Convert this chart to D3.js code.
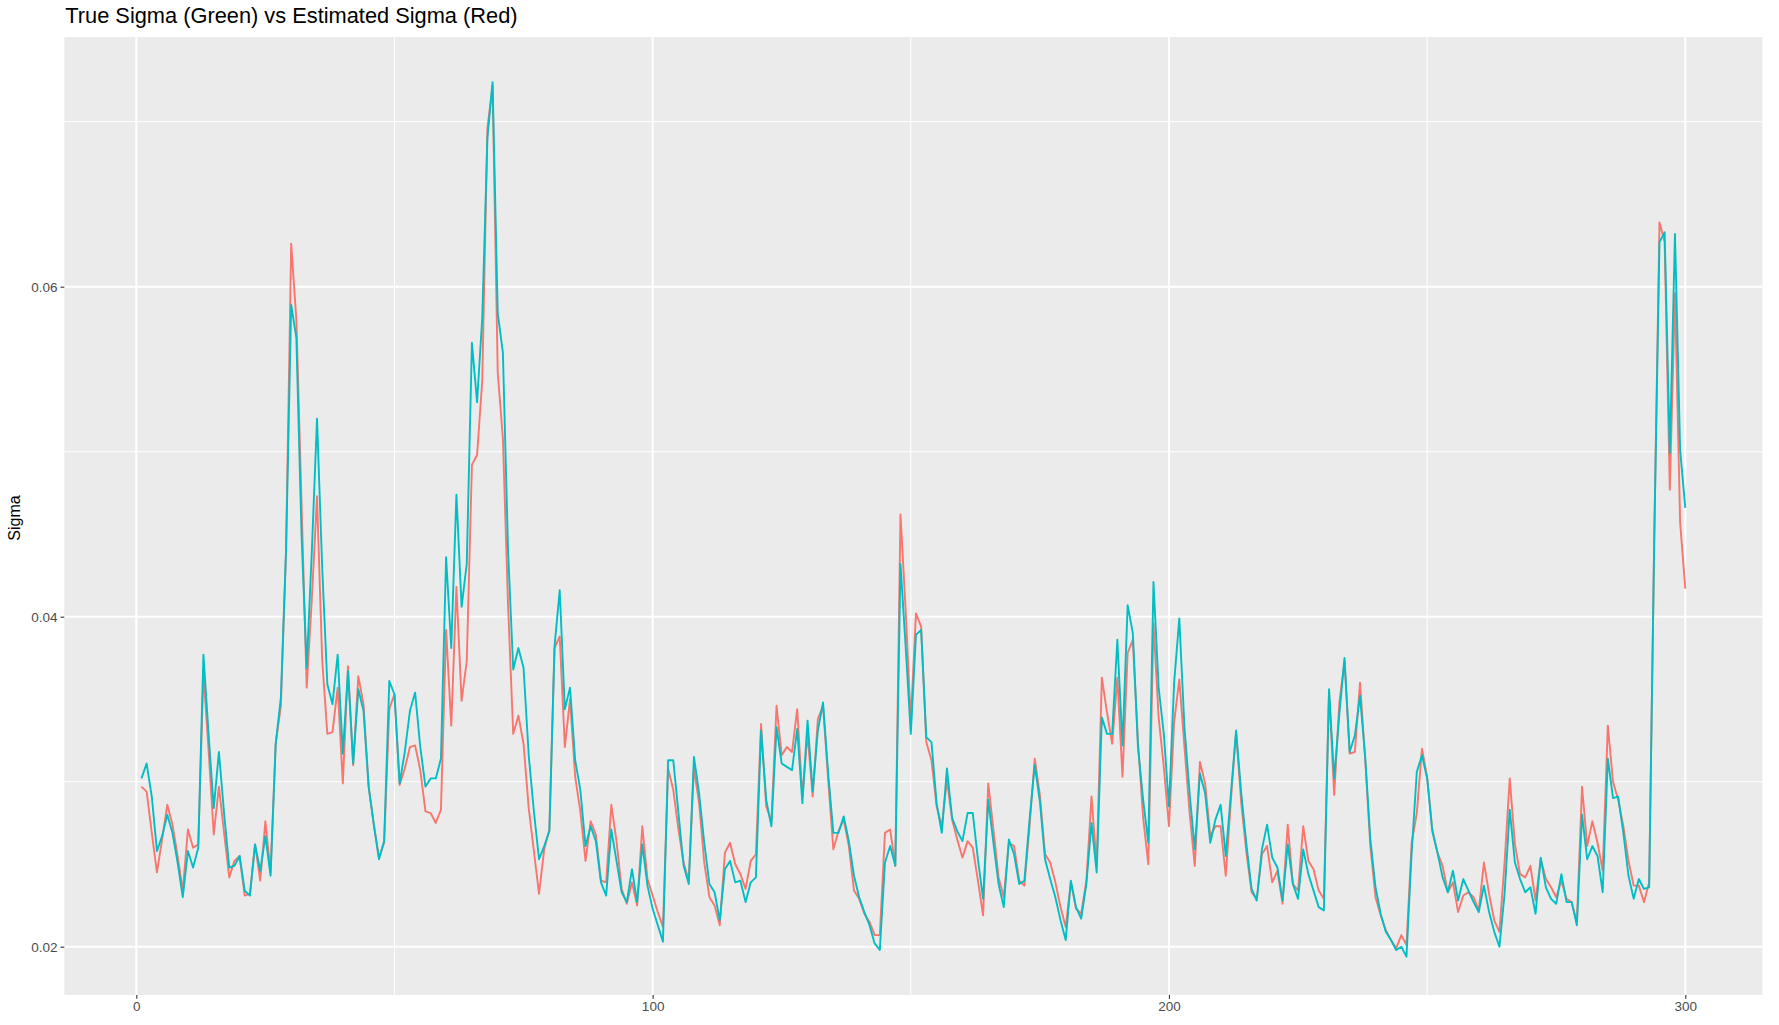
<!DOCTYPE html>
<html>
<head>
<meta charset="utf-8">
<script src="https://cdn.jsdelivr.net/npm/d3@7"></script>
<style>
  html, body { margin: 0; padding: 0; background: #ffffff; }
  svg { display: block; }
  text { font-family: "Liberation Sans", Arial, Helvetica, sans-serif; }
</style>
</head>
<body>
<svg id="chart" width="1779" height="1025"></svg>
<script>
// ---- data ----
const chartTitle = "True Sigma (Green) vs Estimated Sigma (Red)";
const yTitle = "Sigma";
const xMajorTicks = [0, 100, 200, 300];
const xMinorTicks = [50, 150, 250];
const yMajorTicks = [0.02, 0.04, 0.06];
const yMinorTicks = [0.03, 0.05, 0.07];
const yTickLabels = ["0.02", "0.04", "0.06"];

// true sigma (teal line), index 1..300
const trueSigma = [
0.0302,0.0311,0.0291,0.0258,0.0267,0.0280,0.0269,0.0251,0.0230,0.0258,
0.0248,0.0260,0.0377,0.0329,0.0284,0.0318,0.0281,0.0248,0.0249,0.0255,
0.0234,0.0231,0.0262,0.0246,0.0267,0.0243,0.0323,0.0351,0.0440,0.0589,
0.0569,0.0450,0.0369,0.0440,0.0520,0.0430,0.0359,0.0347,0.0377,0.0317,
0.0367,0.0311,0.0356,0.0343,0.0297,0.0274,0.0253,0.0264,0.0361,0.0353,
0.0299,0.0318,0.0343,0.0354,0.0321,0.0297,0.0302,0.0302,0.0314,0.0436,
0.0381,0.0474,0.0406,0.0432,0.0566,0.0530,0.0581,0.0690,0.0724,0.0584,
0.0560,0.0440,0.0368,0.0381,0.0369,0.0316,0.0282,0.0253,0.0261,0.0270,
0.0382,0.0416,0.0344,0.0357,0.0313,0.0295,0.0261,0.0273,0.0264,0.0239,
0.0231,0.0271,0.0252,0.0233,0.0227,0.0247,0.0227,0.0262,0.0237,0.0223,
0.0213,0.0203,0.0313,0.0313,0.0281,0.0249,0.0238,0.0315,0.0293,0.0263,
0.0238,0.0233,0.0216,0.0247,0.0252,0.0239,0.0240,0.0227,0.0239,0.0242,
0.0331,0.0289,0.0273,0.0333,0.0311,0.0309,0.0307,0.0332,0.0287,0.0337,
0.0294,0.0331,0.0348,0.0305,0.0269,0.0269,0.0279,0.0264,0.0243,0.0230,
0.0221,0.0213,0.0202,0.0198,0.0251,0.0261,0.0249,0.0432,0.0382,0.0329,
0.0389,0.0392,0.0327,0.0324,0.0287,0.0269,0.0308,0.0278,0.0270,0.0264,
0.0281,0.0281,0.0253,0.0229,0.0289,0.0263,0.0238,0.0224,0.0265,0.0256,
0.0238,0.0240,0.0277,0.0310,0.0288,0.0253,0.0241,0.0230,0.0216,0.0204,
0.0240,0.0224,0.0217,0.0238,0.0275,0.0245,0.0339,0.0329,0.0329,0.0386,
0.0322,0.0407,0.0390,0.0321,0.0289,0.0263,0.0421,0.0357,0.0329,0.0285,
0.0360,0.0399,0.0333,0.0293,0.0259,0.0305,0.0293,0.0263,0.0277,0.0286,
0.0255,0.0293,0.0331,0.0293,0.0262,0.0235,0.0228,0.0259,0.0274,0.0254,
0.0248,0.0228,0.0262,0.0238,0.0229,0.0259,0.0244,0.0234,0.0224,0.0222,
0.0356,0.0302,0.0341,0.0375,0.0318,0.0328,0.0352,0.0315,0.0265,0.0236,
0.0220,0.0209,0.0204,0.0198,0.0200,0.0194,0.0257,0.0306,0.0316,0.0302,
0.0270,0.0257,0.0242,0.0233,0.0246,0.0228,0.0241,0.0234,0.0227,0.0221,
0.0237,0.0221,0.0209,0.0200,0.0232,0.0283,0.0251,0.0241,0.0233,0.0236,
0.0220,0.0254,0.0236,0.0229,0.0226,0.0244,0.0227,0.0227,0.0213,0.0280,
0.0253,0.0261,0.0255,0.0233,0.0314,0.0290,0.0291,0.0269,0.0243,0.0229,
0.0241,0.0235,0.0236,0.0450,0.0627,0.0633,0.0499,0.0632,0.0501,0.0466
];

// estimated sigma (salmon line), index 1..300
const estSigma = [
0.0297,0.0294,0.0269,0.0245,0.0265,0.0286,0.0274,0.0255,0.0234,0.0271,
0.0260,0.0262,0.0366,0.0319,0.0268,0.0297,0.0269,0.0242,0.0252,0.0255,
0.0231,0.0232,0.0262,0.0240,0.0276,0.0245,0.0323,0.0346,0.0440,0.0626,
0.0580,0.0469,0.0357,0.0411,0.0473,0.0374,0.0329,0.0330,0.0357,0.0299,
0.0370,0.0310,0.0364,0.0347,0.0297,0.0274,0.0254,0.0263,0.0344,0.0353,
0.0298,0.0308,0.0321,0.0322,0.0307,0.0282,0.0281,0.0275,0.0283,0.0392,
0.0334,0.0418,0.0349,0.0373,0.0492,0.0498,0.0543,0.0696,0.0722,0.0548,
0.0508,0.0407,0.0329,0.0340,0.0323,0.0284,0.0258,0.0232,0.0259,0.0271,
0.0381,0.0388,0.0321,0.0350,0.0303,0.0282,0.0252,0.0276,0.0268,0.0240,
0.0239,0.0286,0.0264,0.0235,0.0226,0.0239,0.0225,0.0273,0.0241,0.0231,
0.0221,0.0212,0.0308,0.0295,0.0271,0.0251,0.0240,0.0308,0.0287,0.0251,
0.0230,0.0225,0.0213,0.0257,0.0263,0.0250,0.0244,0.0235,0.0252,0.0256,
0.0335,0.0285,0.0276,0.0346,0.0316,0.0321,0.0318,0.0344,0.0291,0.0329,
0.0291,0.0338,0.0346,0.0301,0.0259,0.0270,0.0277,0.0261,0.0234,0.0229,
0.0220,0.0215,0.0207,0.0207,0.0269,0.0271,0.0249,0.0462,0.0404,0.0337,
0.0402,0.0394,0.0324,0.0313,0.0285,0.0273,0.0301,0.0277,0.0265,0.0254,
0.0264,0.0260,0.0240,0.0219,0.0299,0.0271,0.0242,0.0230,0.0263,0.0261,
0.0240,0.0237,0.0273,0.0314,0.0292,0.0256,0.0251,0.0239,0.0224,0.0212,
0.0239,0.0223,0.0220,0.0240,0.0291,0.0249,0.0363,0.0342,0.0323,0.0363,
0.0303,0.0378,0.0386,0.0324,0.0278,0.0250,0.0396,0.0339,0.0309,0.0273,
0.0336,0.0362,0.0321,0.0281,0.0249,0.0312,0.0299,0.0267,0.0273,0.0273,
0.0243,0.0289,0.0330,0.0287,0.0257,0.0233,0.0229,0.0256,0.0261,0.0239,
0.0246,0.0226,0.0274,0.0238,0.0234,0.0273,0.0252,0.0247,0.0234,0.0229,
0.0355,0.0292,0.0348,0.0373,0.0317,0.0318,0.0360,0.0314,0.0261,0.0230,
0.0219,0.0210,0.0204,0.0199,0.0207,0.0201,0.0263,0.0281,0.0320,0.0303,
0.0271,0.0257,0.0249,0.0233,0.0239,0.0221,0.0231,0.0233,0.0230,0.0222,
0.0251,0.0232,0.0216,0.0209,0.0251,0.0302,0.0262,0.0244,0.0242,0.0249,
0.0228,0.0253,0.0241,0.0236,0.0230,0.0240,0.0229,0.0227,0.0215,0.0297,
0.0261,0.0276,0.0263,0.0246,0.0334,0.0300,0.0289,0.0273,0.0252,0.0237,
0.0237,0.0227,0.0239,0.0450,0.0639,0.0627,0.0477,0.0596,0.0457,0.0417
];

// ---- layout ----
const svg = d3.select("#chart");
const panel = { left: 64.3, right: 1762.4, top: 37, bottom: 995 };

const x = d3.scaleLinear().domain([0, 300]).range([136.3, 1685.3]);
const y = d3.scaleLinear().domain([0.02, 0.04]).range([946.7, 616.7]);

// panel background
svg.append("rect")
  .attr("x", panel.left).attr("y", panel.top)
  .attr("width", panel.right - panel.left)
  .attr("height", panel.bottom - panel.top)
  .attr("fill", "#EBEBEB");

const grid = svg.append("g");
// minor grid
grid.selectAll("line.ymin").data(yMinorTicks).enter().append("line")
  .attr("x1", panel.left).attr("x2", panel.right)
  .attr("y1", d => y(d)).attr("y2", d => y(d))
  .attr("stroke", "#ffffff").attr("stroke-width", 1);
grid.selectAll("line.xmin").data(xMinorTicks).enter().append("line")
  .attr("y1", panel.top).attr("y2", panel.bottom)
  .attr("x1", d => x(d)).attr("x2", d => x(d))
  .attr("stroke", "#ffffff").attr("stroke-width", 1);
// major grid
grid.selectAll("line.ymaj").data(yMajorTicks).enter().append("line")
  .attr("x1", panel.left).attr("x2", panel.right)
  .attr("y1", d => y(d)).attr("y2", d => y(d))
  .attr("stroke", "#ffffff").attr("stroke-width", 2);
grid.selectAll("line.xmaj").data(xMajorTicks).enter().append("line")
  .attr("y1", panel.top).attr("y2", panel.bottom)
  .attr("x1", d => x(d)).attr("x2", d => x(d))
  .attr("stroke", "#ffffff").attr("stroke-width", 2);

// lines
const idx = d3.range(1, 301);
const line = d3.line().x(d => x(d[0])).y(d => y(d[1]));
svg.append("path")
  .datum(idx.map((i, k) => [i, estSigma[k]]))
  .attr("d", line)
  .attr("fill", "none").attr("stroke", "#F8766D")
  .attr("stroke-width", 1.9).attr("stroke-linejoin", "round");
svg.append("path")
  .datum(idx.map((i, k) => [i, trueSigma[k]]))
  .attr("d", line)
  .attr("fill", "none").attr("stroke", "#00BFC4")
  .attr("stroke-width", 1.9).attr("stroke-linejoin", "round");

// axes
const yAxis = d3.axisLeft(y).tickValues(yMajorTicks)
  .tickFormat((d, i) => yTickLabels[i]).tickSize(3.8).tickPadding(3);
const gy = svg.append("g").attr("transform", `translate(${panel.left},0)`).call(yAxis);
gy.select(".domain").remove();
gy.selectAll(".tick line").attr("stroke", "#333333").attr("stroke-width", 1.1);
gy.selectAll(".tick text").attr("fill", "#4D4D4D")
  .style("font-size", "13.5px").style("font-family", "'Liberation Sans', Arial, sans-serif");

const xAxis = d3.axisBottom(x).tickValues(xMajorTicks)
  .tickFormat(d3.format("d")).tickSize(3.8).tickPadding(3);
const gx = svg.append("g").attr("transform", `translate(0,${panel.bottom})`).call(xAxis);
gx.select(".domain").remove();
gx.selectAll(".tick line").attr("stroke", "#333333").attr("stroke-width", 1.1);
gx.selectAll(".tick text").attr("fill", "#4D4D4D")
  .style("font-size", "13.5px").style("font-family", "'Liberation Sans', Arial, sans-serif");

// titles
svg.append("text")
  .attr("x", panel.left + 1).attr("y", 23)
  .attr("fill", "#000000")
  .style("font-size", "21.8px")
  .text(chartTitle);

svg.append("text")
  .attr("transform", `translate(20,${(panel.top + panel.bottom) / 2 + 2}) rotate(-90)`)
  .attr("text-anchor", "middle")
  .attr("fill", "#000000")
  .style("font-size", "16px")
  .text(yTitle);
</script>
</body>
</html>
